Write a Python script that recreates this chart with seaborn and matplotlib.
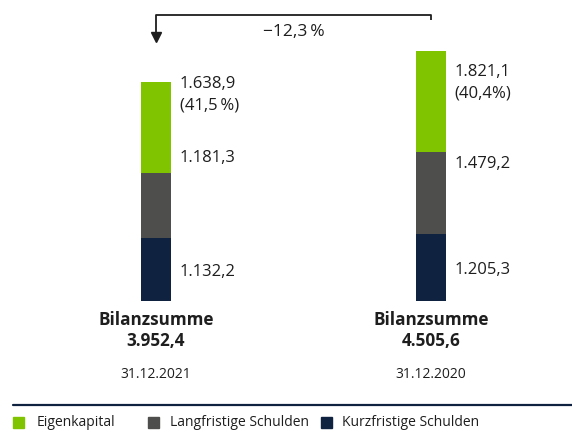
import matplotlib.pyplot as plt
import seaborn as sns
from matplotlib.patches import Rectangle
from matplotlib.lines import Line2D

# Balance sheet structure (Mio. EUR)
dates = ['31.12.2021', '31.12.2020']
kurzfristig = [1132.2, 1205.3]
langfristig = [1181.3, 1479.2]
eigenkapital = [1638.9, 1821.1]
ek_quote = ['(41,5\u2009%)', '(40,4%)']
bilanzsumme = ['3.952,4', '4.505,6']
value_labels = [['1.132,2', '1.181,3', '1.638,9'],
                ['1.205,3', '1.479,2', '1.821,1']]
change_label = '\u221212,3\u2009%'
legend_labels = ['Eigenkapital', 'Langfristige Schulden', 'Kurzfristige Schulden']

green = '#80c400'
grey = '#4e4e4c'
navy = '#0f2341'
txt = '#1e1e1e'

sns.set_theme(style='white')
plt.rcParams['font.family'] = ['Open Sans', 'DejaVu Sans']

W, H = 572, 432
fig = plt.figure(figsize=(W / 100, H / 100), dpi=100)

# axis geometry in pixels
base_px = 301      # bar bottom (from top)
px_per_unit = 0.0555
x0_px, dx_px = 156, 275
ymax = 5400
ax = fig.add_axes([0, (H - base_px) / H, 1, ymax * px_per_unit / H])


def ypx(p):
    # pixel row -> data value
    return (base_px - p) / px_per_unit


# stacked bars: draw cumulative totals back-to-front
tot2 = [a + b for a, b in zip(kurzfristig, langfristig)]
tot3 = [a + b for a, b in zip(tot2, eigenkapital)]
w = 30 / dx_px
for vals, col in [(tot3, green), (tot2, grey), (kurzfristig, navy)]:
    sns.barplot(x=dates, y=vals, color=col, width=w, saturation=1,
                linewidth=0, edgecolor='none', ax=ax)

ax.set_xlim(-x0_px / dx_px, (W - x0_px) / dx_px)
ax.set_ylim(0, ymax)
ax.axis('off')

# value labels next to bars
lab_x = 0.086
rows = [[272, 158, 84], [270, 164, 72]]
for i in range(2):
    for lab, r in zip(value_labels[i], rows[i]):
        ax.text(i + lab_x, ypx(r), lab, ha='left', va='center',
                fontsize=12, color=txt)
    ax.text(i + lab_x, ypx(rows[i][2] + 21), ek_quote[i], ha='left',
            va='center', fontsize=12, color=txt)
    ax.text(i, ypx(320), 'Bilanzsumme', ha='center', va='center',
            fontsize=12.3, fontweight='bold', color=txt, clip_on=False)
    ax.text(i, ypx(341), bilanzsumme[i], ha='center', va='center',
            fontsize=12.3, fontweight='bold', color=txt, clip_on=False)
    ax.text(i, ypx(375), dates[i], ha='center', va='center',
            fontsize=10, color=txt, clip_on=False)

# change bracket with arrow
ax.plot([1, 1, 0, 0], [ypx(20.5), ypx(15), ypx(15), ypx(36)],
        color=txt, lw=1.3, clip_on=False, solid_capstyle='butt')
ax.plot([0], [ypx(37.5)], marker='v', markersize=7, color=txt, clip_on=False)
ax.text(0.5, ypx(32), change_label, ha='center',
        va='center', fontsize=12.5, color=txt)

# separator line
fig.add_artist(Line2D([13 / W, 1], [(H - 405) / H] * 2, color=navy, lw=1.6))

# legend
leg_sq = [13, 148, 321]
leg_tx = [37, 170, 342]
for sx, tx, col, lab in zip(leg_sq, leg_tx, [green, grey, navy], legend_labels):
    fig.add_artist(Rectangle((sx / W, (H - 428) / H), 11 / W, 11 / H,
                             color=col, transform=fig.transFigure))
    fig.text(tx / W, (H - 422) / H, lab, ha='left', va='center',
             fontsize=10, color=txt)

fig.savefig('out.png', dpi=100)
